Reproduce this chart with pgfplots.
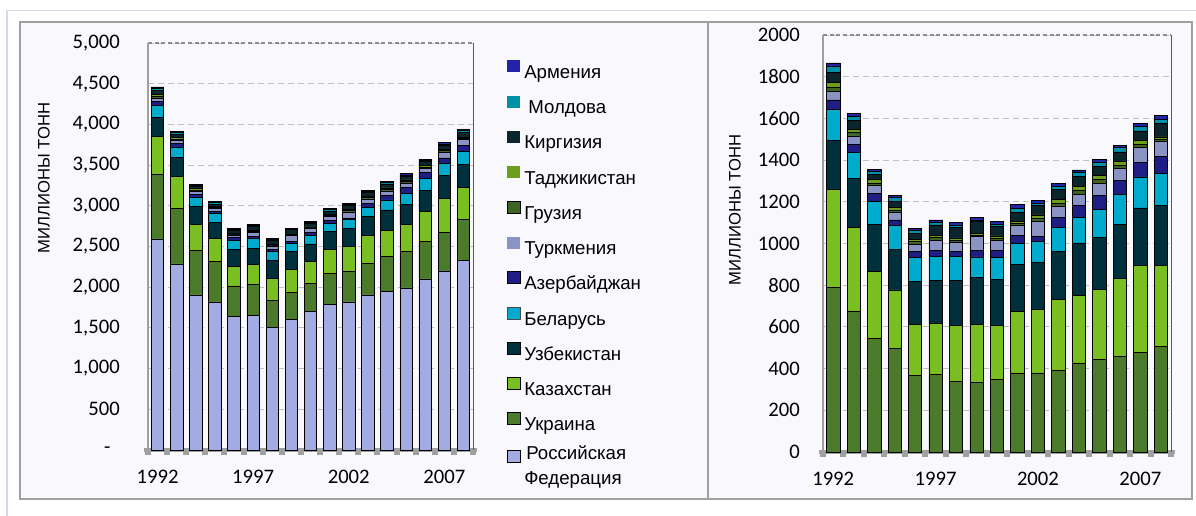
\documentclass[border=0pt]{standalone}
\usepackage{fontspec}
\setmainfont{Liberation Sans}
\newfontfamily\numfont{Carlito}
\usepackage{pgfplots}
\usepackage{pgfplotstable}
\pgfplotsset{compat=1.18}

\definecolor{rus}{HTML}{A2ACE2}
\definecolor{ukr}{HTML}{4A7A2A}
\definecolor{kaz}{HTML}{7ABF22}
\definecolor{uzb}{HTML}{00303C}
\definecolor{bel}{HTML}{00AACC}
\definecolor{aze}{HTML}{1E1E84}
\definecolor{tkm}{HTML}{8994C4}
\definecolor{geo}{HTML}{3E6424}
\definecolor{taj}{HTML}{6C9E1C}
\definecolor{kgz}{HTML}{0A262C}
\definecolor{mda}{HTML}{0090A8}
\definecolor{arm}{HTML}{2323A8}
\definecolor{tickgray}{HTML}{A0A0A0}
\definecolor{gridgray}{HTML}{C0C0C0}
\definecolor{framegray}{HTML}{A0A0A0}
\definecolor{panelbg}{HTML}{F9F9FD}
\definecolor{outerline}{HTML}{D5DAEA}

% million tonnes, 1992 (x=0) to 2008 (x=16)
\pgfplotstableread{
x  rus  ukr kaz uzb bel aze tkm geo taj kgz mda arm
0  2594 789 469 237 149 45  40  21  24  46  30  16
1  2287 677 402 232 125 40  40  16  16  44  19  13
2  1905 544 322 226 111 36  39  11  18  24  13  11
3  1819 498 279 196 113 27  35  13  12  29  19  10
4  1646 369 244 205 114 31  34  11  11  29  13  12
5  1658 374 244 205 114 28  51  12  12  49  13  11
6  1502 339 269 215 114 24  44  11  11  51  11  11
7  1601 334 279 226 97  29  67  8   8   57  8   13
8  1704 347 261 219 105 34  47  11  12  45  13  11
9  1786 379 294 225 102 37  49  9   10  45  19  17
10 1819 379 303 226 103 21  73  16  16  45  12  14
11 1905 392 340 231 114 49  53  15  19  48  13  13
12 1946 427 323 253 123 55  56  16  21  49  16  14
13 1991 444 335 252 134 66  56  20  19  45  16  18
14 2102 460 371 261 145 66  57  16  16  47  21  11
15 2200 476 418 277 148 70  71  16  19  45  20  16
16 2328 508 386 288 154 82  71  11  11  65  21  16
}\coal

\pgfplotsset{cis/.style={
  scale only axis, ybar stacked, bar width=0.65,
  xmin=-0.5, xmax=16.5, ymin=0, enlargelimits=false, clip=false,
  xtick={0,5,10,15}, xticklabels={1992,1997,2002,2007},
  minor xtick={-0.5,0.5,...,16.5},
  tickpos=left, tick align=outside,
  major tick length=0pt, minor tick length=4pt,
  every minor tick/.append style={line width=4.5pt, draw=tickgray},
  ymajorgrids, grid style={draw=gridgray, dash pattern=on 4.5pt off 3pt, line width=0.6pt},
  axis line style={draw=none},
  ticklabel style={font=\numfont\fontsize{15.5}{18}\selectfont, inner sep=0pt},
  xticklabel style={anchor=center, yshift=-20pt},
  yticklabel style={anchor=east},
}}

\newcommand\seg[1]{\addplot[fill=#1, draw=black, line width=0.5pt] table[x=x,y=#1]{\coal};}
\newcommand\others{\seg{ukr}\seg{kaz}\seg{uzb}\seg{bel}\seg{aze}\seg{tkm}\seg{geo}\seg{taj}\seg{kgz}\seg{mda}\seg{arm}}
\newcommand\borders{%
  \draw[draw=tickgray, line width=1.5pt] (rel axis cs:0,0) -- (rel axis cs:0,1);
  \draw[draw=black!65, line width=0.7pt] (rel axis cs:1,0) -- (rel axis cs:1,1);
  \draw[draw=black!45, dash pattern=on 3pt off 2pt, line width=0.8pt] (rel axis cs:0,1) -- (rel axis cs:1,1);
  \draw[draw=tickgray, line width=3pt] (rel axis cs:-0.012,0) -- (rel axis cs:1.012,0);
}

\begin{document}
\begin{tikzpicture}
\useasboundingbox (0,0) rectangle (897pt,387pt);
\begin{scope}[x=0.75pt, y=-0.75pt, yshift=387pt]
  \fill[white] (0,0) rectangle (1196,516);
  \draw[outerline, line width=1pt] (7,516) -- (7,10.5) -- (1196,10.5);
  \filldraw[fill=panelbg, draw=framegray, line width=1.5pt] (20,22.5) rectangle (1192,499);
  \draw[framegray, line width=1.5pt] (708,22.5) -- (708,499);
  \node[rotate=90, font=\fontsize{12.5}{14}\selectfont] at (44,178) {МИЛЛИОНЫ ТОНН};
  \node[rotate=90, font=\fontsize{12.5}{14}\selectfont] at (735,210) {МИЛЛИОНЫ ТОНН};
\end{scope}

\begin{axis}[cis, at={(111pt,49.5pt)}, anchor=south west,
  width=243.75pt, height=305.25pt, ymax=5000,
  ytick={0,500,...,5000},
  yticklabels={-\kern7pt,500,{1,000},{1,500},{2,000},{2,500},{3,000},{3,500},{4,000},{4,500},{5,000}},
  yticklabel style={xshift=-21pt}]
\seg{rus}\others
\borders
\end{axis}

\begin{axis}[cis, at={(617.25pt,48pt)}, anchor=south west,
  width=261pt, height=312.75pt, ymax=2000,
  ytick={0,200,...,2000},
  yticklabels={0,200,400,600,800,1000,1200,1400,1600,1800,2000},
  yticklabel style={xshift=-17.25pt}]
\others
\borders
\end{axis}

\begin{scope}[x=0.75pt, y=-0.75pt, yshift=387pt, font=\fontsize{14}{16}\selectfont]
  \foreach \c/\t/\dx/\bd [count=\i from 0] in {arm/Армения/0/none, mda/Молдова/4/none,
      kgz/Киргизия/0/none, taj/Таджикистан/0/none, geo/Грузия/0/black,
      tkm/Туркмения/0/none, aze/Азербайджан/0/black, bel/Беларусь/0/black!70,
      uzb/Узбекистан/0/black, kaz/Казахстан/0/black, ukr/Украина/0/black} {
    \pgfmathsetmacro\b{78.3+35.25*\i}
    \filldraw[fill=\c, draw=\bd, line width=0.6pt] (507,\b-18) rectangle (520,\b-6);
    \node[anchor=base west, inner sep=0pt] at (524+\dx,\b) {\t};
  }
  \filldraw[fill=rus, draw=black, line width=0.6pt] (507,450) rectangle (520,462);
  \node[anchor=base west, inner sep=0pt] at (526,459.3) {Российская};
  \node[anchor=base west, inner sep=0pt] at (524,484.3) {Федерация};
\end{scope}
\end{tikzpicture}
\end{document}
